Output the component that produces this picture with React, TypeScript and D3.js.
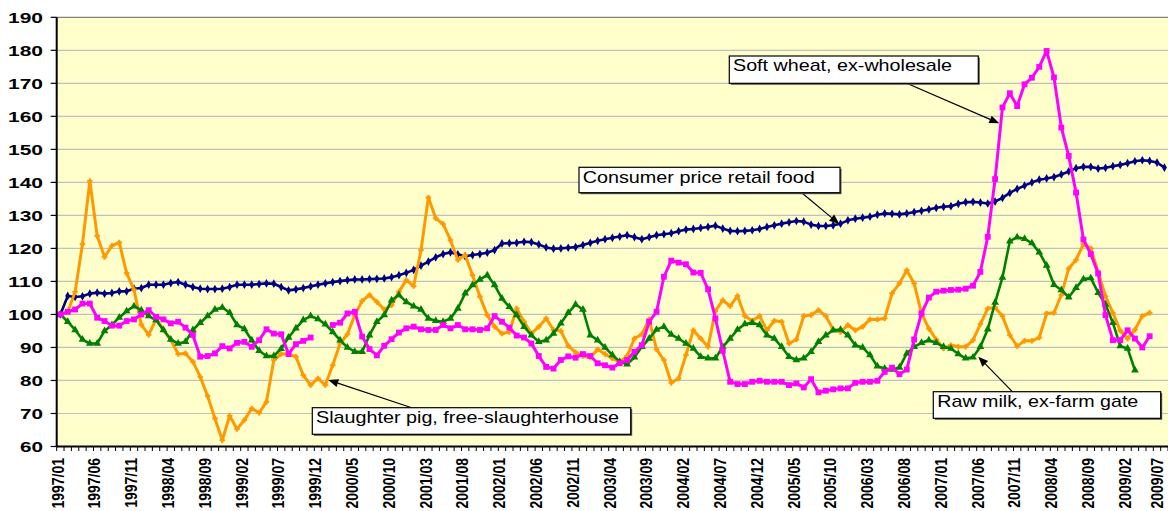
import React from "react";
import * as d3 from "d3";

// ---------- DATA ----------
const categories: string[] = [];
for (let yr = 1997; yr <= 2009; yr++) {
  for (let m = 1; m <= 12; m++) {
    if (yr === 2009 && m > 7) break;
    categories.push(`${yr}/${m < 10 ? "0" + m : m}`);
  }
}
const tickLabels: string[] = categories.filter((_, i) => i % 5 === 0);
const yTickValues: number[] = [60, 70, 80, 90, 100, 110, 120, 130, 140, 150, 160, 170, 180, 190];

const consumerPrice: (number | null)[] = [
  100, 105.6, 105.3, 105.5, 106.3, 106.6, 106.3, 106.5, 107.0, 107.0,
  107.8, 108.0, 109.0, 109.0, 109.0, 109.5, 109.8, 109.0, 108.3, 107.8,
  107.7, 107.7, 107.8, 108.3, 109.0, 109.0, 109.0, 109.2, 109.4, 109.3,
  108.3, 107.3, 107.6, 108.0, 108.5, 109.0, 109.4, 109.8, 110.1, 110.4,
  110.6, 110.6, 110.7, 110.8, 110.9, 111.3, 111.9, 112.6, 113.5, 114.8,
  116.0, 117.3, 118.3, 118.8, 118.2, 117.6, 118.0, 118.3, 118.7, 119.5,
  121.5, 121.6, 121.7, 122.0, 121.9, 121.2, 120.3, 119.9, 120.0, 120.2,
  120.4, 121.0, 121.7, 122.3, 122.8, 123.2, 123.6, 124.0, 123.4, 122.8,
  123.4, 124.0, 124.3, 124.6, 125.2, 125.7, 125.9, 126.2, 126.5, 126.9,
  126.0, 125.3, 125.2, 125.3, 125.5, 125.9, 126.5, 127.0, 127.5, 127.9,
  128.3, 128.1, 127.2, 126.8, 126.8, 127.0, 127.5, 128.5, 129.0, 129.3,
  129.6, 130.2, 130.6, 130.5, 130.3, 130.6, 131.0, 131.4, 131.8, 132.3,
  132.6, 132.8, 133.5, 134.0, 134.1, 133.9, 133.6, 134.2, 135.3, 136.8,
  138.0, 139.0, 140.0, 140.8, 141.2, 141.6, 142.4, 143.3, 144.3, 144.7,
  144.7, 144.2, 144.4, 144.9, 145.3, 145.8, 146.4, 146.7, 146.5, 146.0,
  144.5,
];

const softWheat: (number | null)[] = [
  100, 100.8, 101.5, 103.3, 103.3, 99.0, 98.0, 96.6, 96.6, 98.0,
  98.5, 100.0, 101.3, 99.3, 98.5, 97.3, 97.8, 96.0, 93.8, 87.2,
  87.4, 88.2, 90.4, 89.7, 91.4, 91.7, 90.2, 92.2, 95.5, 94.2,
  94.0, 88.0, 91.0, 92.0, 93.0, null, null, 96.8, 97.5, 100.3,
  100.8, 93.3, 89.5, 87.6, 90.5, 92.5, 94.5, 95.8, 96.3, 95.5,
  95.3, 95.3, 96.8, 95.8, 96.8, 95.5, 95.5, 95.3, 95.8, 99.5,
  97.8, 96.0, 93.6, 93.0, 91.2, 87.4, 84.1, 83.6, 86.2, 87.3,
  86.9, 88.0, 87.4, 85.2, 84.6, 83.9, 85.2, 86.2, 88.7, 90.7,
  97.8, 100.8, 111.4, 116.3, 115.7, 115.2, 112.7, 112.6, 107.6, 98.8,
  89.0, 79.6, 78.9, 78.9, 79.6, 79.9, 79.6, 79.6, 79.6, 78.6,
  79.1, 77.9, 80.4, 76.4, 76.9, 77.3, 77.6, 77.6, 79.3, 79.6,
  79.6, 79.9, 82.6, 83.9, 81.9, 83.3, 92.4, 100.3, 105.1, 106.9,
  107.2, 107.4, 107.5, 107.8, 108.7, 112.9, 123.5, 141.0, 162.7, 167.0,
  163.1, 169.7, 171.7, 175.0, 179.8, 171.8, 156.6, 148.0, 136.9, 122.7,
  118.3, 112.4, 99.8, 92.2, 92.2, 95.2, 92.7, 90.0, 93.4,
];

const rawMilk: (number | null)[] = [
  100, 97.8, 95.3, 92.4, 91.2, 91.2, 95.0, 96.8, 99.1, 101.0,
  102.5, 101.3, 99.5, 98.3, 95.3, 92.4, 91.2, 91.7, 95.3, 97.5,
  99.5, 101.5, 102.1, 100.5, 96.8, 95.6, 92.2, 89.0, 87.4, 87.4,
  89.6, 93.0, 95.8, 98.3, 99.5, 98.6, 97.0, 94.7, 92.2, 90.0,
  88.7, 88.7, 93.7, 97.8, 99.8, 104.3, 105.9, 103.8, 102.5, 101.5,
  98.8, 98.1, 97.8, 98.8, 101.8, 106.4, 108.9, 110.6, 111.9, 108.9,
  104.8, 102.3, 99.8, 96.3, 93.7, 91.7, 92.2, 94.2, 97.3, 100.5,
  103.0, 101.5, 93.7, 92.2, 90.0, 87.7, 85.7, 84.9, 87.0, 90.2,
  92.7, 95.4, 96.3, 93.9, 92.7, 91.2, 89.7, 87.2, 86.7, 86.7,
  90.2, 92.7, 95.4, 97.1, 97.5, 96.8, 93.7, 92.7, 90.2, 87.2,
  86.2, 86.7, 88.7, 91.7, 93.7, 95.2, 95.4, 93.7, 90.7, 90.0,
  87.7, 84.3, 83.6, 83.3, 83.9, 88.2, 90.2, 91.4, 92.2, 91.4,
  90.2, 89.7, 88.0, 86.7, 87.0, 90.2, 95.5, 103.6, 111.2, 122.2,
  123.4, 122.9, 121.6, 118.8, 114.8, 109.0, 107.4, 105.2, 108.1, 110.7,
  111.0, 106.6, 103.0, 97.5, 90.4, 89.7, 83.1,
];

const slaughterPig: (number | null)[] = [
  100, 100.8, 106.8, 121.3, 140.4, 123.8, 117.4, 120.8, 121.8, 112.5,
  107.5, 96.9, 93.8, 98.6, 95.4, 92.3, 88.0, 88.2, 85.7, 81.1,
  75.3, 68.5, 61.9, 69.3, 65.3, 68.0, 71.5, 70.2, 73.5, 86.2,
  88.0, 88.0, 87.2, 81.6, 78.6, 80.6, 78.6, 84.6, 91.2, 94.0,
  99.8, 104.1, 105.9, 103.8, 101.5, 102.8, 106.9, 110.4, 108.6, 119.5,
  135.4, 129.1, 127.4, 122.5, 116.5, 118.0, 111.9, 105.4, 99.8, 96.3,
  94.2, 94.7, 101.8, 97.8, 94.2, 96.3, 98.8, 95.3, 95.0, 90.5,
  88.5, 87.4, 87.0, 89.4, 88.0, 86.7, 85.6, 87.4, 92.7, 94.0,
  98.5, 89.4, 86.2, 79.3, 80.6, 87.7, 95.2, 92.7, 90.2, 101.1,
  104.3, 102.5, 105.6, 99.5, 98.1, 99.5, 95.2, 98.1, 97.8, 91.2,
  92.4, 99.5, 99.8, 101.3, 99.5, 95.4, 94.7, 96.8, 95.2, 96.3,
  98.5, 98.5, 98.8, 106.4, 109.4, 113.4, 109.4, 100.3, 95.7, 92.4,
  89.7, 90.7, 90.2, 90.2, 92.2, 97.1, 101.8, 102.1, 99.5, 93.7,
  90.4, 92.0, 92.0, 93.0, 100.3, 100.5, 105.9, 113.9, 116.5, 121.3,
  120.0, 112.9, 105.5, 100.5, 95.1, 92.7, 95.4, 99.5, 100.5,
];

// ---------- LAYOUT ----------
const W = 1168;
const H = 511;
const LEFT = 56.7;
const TOP = 17.3;
const BOTTOM = 446.5;
const STEP = 7.36;
const FONT = "'Liberation Sans', Arial, Helvetica, sans-serif";

type Marker = "diamond" | "square" | "triangle" | "cross";
interface Series {
  name: string;
  values: (number | null)[];
  color: string;
  width: number;
  marker: Marker;
  size: number;
}

const series: Series[] = [
  { name: "Consumer price retail food", values: consumerPrice, color: "#000080", width: 2.6, marker: "diamond", size: 22 },
  { name: "Slaughter pig, free-slaughterhouse", values: slaughterPig, color: "#FF9900", width: 3, marker: "cross", size: 14 },
  { name: "Raw milk, ex-farm gate", values: rawMilk, color: "#008000", width: 2.6, marker: "triangle", size: 26 },
  { name: "Soft wheat, ex-wholesale", values: softWheat, color: "#FF00FF", width: 3, marker: "square", size: 34 },
];

const annotations = [
  { text: "Soft wheat, ex-wholesale", box: [729.3, 56, 249, 27.3], tx: 733, tw: 219, from: [906.7, 83.3], to: [999.3, 123.3] },
  { text: "Consumer price retail food", box: [579, 167.3, 261, 25.4], tx: 582.7, tw: 232, from: [801.7, 192.7], to: [839.3, 224] },
  { text: "Slaughter pig, free-slaughterhouse", box: [312.3, 407.7, 318.4, 26.6], tx: 316, tw: 303, from: [411.7, 407.7], to: [328.3, 380] },
  { text: "Raw milk, ex-farm gate", box: [933.3, 391.7, 227.4, 26.6], tx: 937.3, tw: 201, from: [1012.3, 391.7], to: [978.3, 356.7] },
];

const symbolTypes: Record<Marker, d3.SymbolType> = {
  diamond: d3.symbolDiamond,
  square: d3.symbolSquare,
  triangle: d3.symbolTriangle,
  cross: d3.symbolCross,
};

export default function App() {
  const n = categories.length;
  const x = d3
    .scaleBand<number>()
    .domain(d3.range(n))
    .range([LEFT, LEFT + n * STEP])
    .paddingInner(0)
    .paddingOuter(0);
  const cx = (i: number) => (x(i) as number) + x.bandwidth() / 2;
  const y = d3.scaleLinear().domain([60, 190]).range([BOTTOM, TOP]);

  const line = d3
    .line<number | null>()
    .defined((d) => d !== null)
    .x((_, i) => cx(i))
    .y((d) => y(d as number));

  const plotRight = W;

  return (
    <svg
      width={W}
      height={H}
      style={{ position: "absolute", left: 0, top: 0, background: "#fff" }}
      fontFamily={FONT}
    >
      <rect x={LEFT} y={TOP} width={plotRight - LEFT} height={BOTTOM - TOP} fill="#FFFFCC" />
      {yTickValues.filter((v) => v > 60 && v < 190).map((v) => (
        <line key={"g" + v} x1={LEFT} x2={plotRight} y1={y(v)} y2={y(v)} stroke="#C0C0C0" strokeWidth={1.2} />
      ))}
      <line x1={LEFT} x2={plotRight} y1={TOP} y2={TOP} stroke="#808080" strokeWidth={1.2} />

      {/* series */}
      {series.map((s) => (
        <g key={s.name}>
          <path d={line(s.values) || ""} fill="none" stroke={s.color} strokeWidth={s.width} strokeLinejoin="round" />
          {s.values.map((v, i) =>
            v === null ? null : (
              <path
                key={i}
                transform={`translate(${cx(i)},${y(v)})`}
                d={d3.symbol().type(symbolTypes[s.marker]).size(s.size)() || ""}
                fill={s.color}
                stroke={s.marker === "cross" ? s.color : "none"}
                strokeWidth={s.marker === "cross" ? 0.5 : 0}
              />
            )
          )}
        </g>
      ))}

      {/* axes */}
      <line x1={LEFT} x2={LEFT} y1={TOP} y2={BOTTOM} stroke="#000" strokeWidth={2} />
      <line x1={LEFT} x2={plotRight} y1={BOTTOM} y2={BOTTOM} stroke="#000" strokeWidth={2} />
      {yTickValues.map((v) => (
        <g key={"yt" + v}>
          <line x1={LEFT - 6} x2={LEFT} y1={y(v)} y2={y(v)} stroke="#000" strokeWidth={1.2} />
          <text
            x={43}
            y={y(v)}
            dy="0.36em"
            textAnchor="end"
            fontSize={15}
            fontWeight="bold"
            textLength={String(v).length === 3 ? 35 : 23}
            lengthAdjust="spacingAndGlyphs"
            fill="#000"
          >
            {v}
          </text>
        </g>
      ))}
      {d3.range(n + 1).map((i) => (
        <line
          key={"xt" + i}
          x1={LEFT + i * STEP}
          x2={LEFT + i * STEP}
          y1={BOTTOM}
          y2={BOTTOM + 4.5}
          stroke="#000"
          strokeWidth={1}
        />
      ))}
      {tickLabels.map((lab) => {
        const i = categories.indexOf(lab);
        const lx = Math.min(cx(i) - 2.8, W - 10.5);
        return (
          <text
            key={"xl" + lab}
            transform={`translate(${lx},${458}) scale(1.18,1) rotate(-90)`}
            textAnchor="end"
            dy="0.36em"
            fontSize={14}
            fontWeight="bold"
            fill="#000"
          >
            {lab}
          </text>
        );
      })}

      {/* annotations */}
      {annotations.map((a) => {
        const [bx, by, bw, bh] = a.box;
        const [fx, fy] = a.from;
        const [tx, ty] = a.to;
        const ang = Math.atan2(ty - fy, tx - fx);
        const L = 10;
        const Wd = 4;
        const bxp = tx - L * Math.cos(ang);
        const byp = ty - L * Math.sin(ang);
        const p1 = [bxp + Wd * Math.sin(ang), byp - Wd * Math.cos(ang)];
        const p2 = [bxp - Wd * Math.sin(ang), byp + Wd * Math.cos(ang)];
        return (
          <g key={a.text}>
            <line x1={fx} y1={fy} x2={bxp} y2={byp} stroke="#000" strokeWidth={1.2} />
            <polygon points={`${tx},${ty} ${p1[0]},${p1[1]} ${p2[0]},${p2[1]}`} fill="#000" />
            <rect x={bx + 1.5} y={by + 1.5} width={bw} height={bh} fill="#555" />
            <rect x={bx} y={by} width={bw} height={bh} fill="#fff" stroke="#000" strokeWidth={1.2} />
            <text
              x={a.tx}
              y={by + 15.2}
              fontSize={17}
              textLength={a.tw}
              lengthAdjust="spacingAndGlyphs"
              fill="#000"
            >
              {a.text}
            </text>
          </g>
        );
      })}
    </svg>
  );
}
